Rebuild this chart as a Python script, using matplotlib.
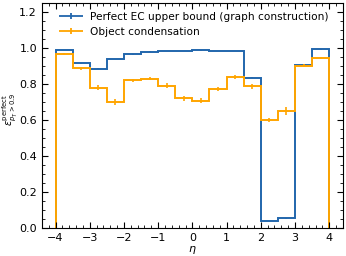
import numpy as np
import matplotlib
matplotlib.use("Agg")
import matplotlib.pyplot as plt
from matplotlib.ticker import AutoMinorLocator
from matplotlib.legend_handler import HandlerErrorbar
from matplotlib.container import ErrorbarContainer

eta_edges = np.linspace(-4, 4, 17)

gc_eff = [0.990, 0.915, 0.885, 0.940, 0.965, 0.980, 0.983, 0.983,
          0.987, 0.985, 0.983, 0.835, 0.040, 0.055, 0.907, 0.993]
gc_err = [0.002, 0.002, 0.002, 0.002, 0.002, 0.001, 0.001, 0.001,
          0.001, 0.001, 0.001, 0.003, 0.002, 0.002, 0.002, 0.002]

oc_eff = [0.967, 0.888, 0.780, 0.700, 0.820, 0.830, 0.792, 0.720,
          0.708, 0.773, 0.838, 0.787, 0.600, 0.650, 0.903, 0.943]
oc_err = [0.006, 0.008, 0.015, 0.018, 0.010, 0.008, 0.015, 0.012,
          0.014, 0.010, 0.012, 0.012, 0.012, 0.020, 0.008, 0.006]

labels = ["Perfect EC upper bound (graph construction)", "Object condensation"]
colors = ["#2166ac", "#ffa500"]

plt.rcParams['font.size'] = 8
fig = plt.figure(figsize=(3.46, 2.56), dpi=100)
ax = fig.add_axes([0.121, 0.109, 0.870, 0.879])

centers = 0.5 * (eta_edges[1:] + eta_edges[:-1])
for eff, err, c, lab in zip([gc_eff, oc_eff], [gc_err, oc_err], colors, labels):
    ax.stairs(eff, eta_edges, baseline=0, color=c, lw=1.4)
    ax.errorbar(centers, eff, yerr=err, fmt='none', ecolor=c, elinewidth=1.2)
    ax.errorbar([np.nan], [np.nan], xerr=[1], yerr=[1], fmt='none',
                ecolor=c, elinewidth=1.3, label=lab)

ax.set_xlim(-4.4, 4.4)
ax.set_ylim(0, 1.25)
ax.set_xticks(np.arange(-4, 5, 1))
ax.set_yticks(np.arange(0, 1.21, 0.2))
ax.xaxis.set_minor_locator(AutoMinorLocator())
ax.yaxis.set_minor_locator(AutoMinorLocator())
ax.tick_params(which='both', direction='in', top=True, right=True)
ax.tick_params(which='major', length=4)
ax.tick_params(which='minor', length=2)

ax.set_xlabel(r"$\eta$", labelpad=1)
ax.set_ylabel(r"$\epsilon^{\rm perfect}_{p_T > 0.9}$", fontsize=7)
ax.yaxis.set_label_coords(-0.075, 0.53)
ax.legend(loc='upper left', bbox_to_anchor=(0.058, 0.962), frameon=False,
          fontsize=7.6, handlelength=2.2, borderaxespad=0, borderpad=0,
          labelspacing=0.5, handletextpad=0.7,
          handler_map={ErrorbarContainer: HandlerErrorbar(xerr_size=1.1, yerr_size=0.28)})

plt.savefig('out.png', dpi=100)
